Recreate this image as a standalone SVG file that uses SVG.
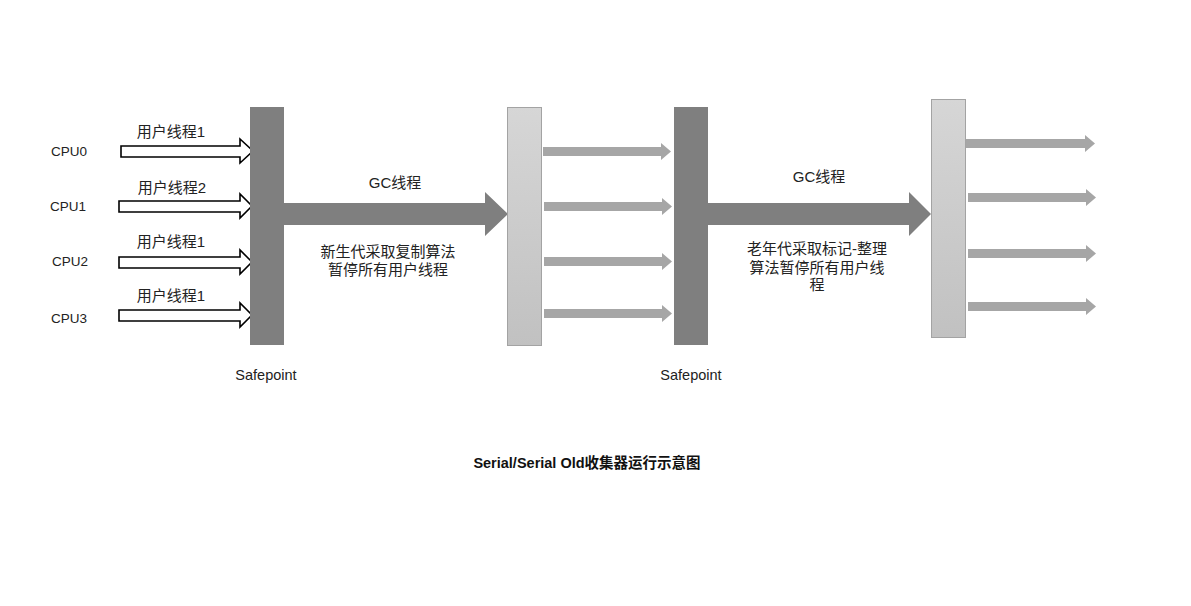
<svg xmlns="http://www.w3.org/2000/svg" width="1191" height="606" viewBox="0 0 1191 606">
<style>
text{font-family:"Liberation Sans","Noto Sans CJK SC",sans-serif;font-size:15px;fill:#222}
.c{text-anchor:middle}
.cpu{font-size:13.5px}
.sp{font-size:14.5px}
.title{font-weight:bold;font-size:14.5px;fill:#111}
.dark{fill:#7f7f7f}
.light{fill:url(#lg);stroke:#a3a3a3;stroke-width:1}
.ua{fill:#fff;stroke:#000;stroke-width:1.6}
.gc{fill:#7f7f7f}
.ga{fill:#a6a6a6}
</style>
<defs>
<linearGradient id="lg" x1="0" y1="0" x2="0" y2="1">
<stop offset="0" stop-color="#d6d6d6"/>
<stop offset="1" stop-color="#c1c1c1"/>
</linearGradient>
</defs>
<rect width="1191" height="606" fill="#fff"/>

<g id="labels-cpu">
<text x="69" y="156" class="c cpu">CPU0</text>
<text x="68" y="211" class="c cpu">CPU1</text>
<text x="70" y="266" class="c cpu">CPU2</text>
<text x="69" y="323" class="c cpu">CPU3</text>
</g>

<g id="connectors">
<polygon class="ua" points="121,146 240,146 240,139 253,151 240,163 240,157 121,157"/>
<polygon class="ua" points="119,201 240,201 240,194 252,206 240,218 240,212 119,212"/>
<polygon class="ua" points="119,257 240,257 240,250 252,262 240,274 240,268 119,268"/>
<polygon class="ua" points="119,310 240,310 240,303 252,315 240,327 240,321 119,321"/>

<polygon class="gc" points="284,203 485,203 485,192 508,214 485,236 485,225 284,225"/>
<polygon class="gc" points="708,203 909,203 909,192 931,214 909,236 909,225 708,225"/>

<polygon class="ga" points="543,147 661,147 661,143 671,151.5 661,160 661,156 543,156"/>
<polygon class="ga" points="544,202 662,202 662,198 672,206.5 662,215 662,211 544,211"/>
<polygon class="ga" points="544,257 662,257 662,253 672,261.5 662,270 662,266 544,266"/>
<polygon class="ga" points="544,309 662,309 662,305 672,313.5 662,322 662,318 544,318"/>

<polygon class="ga" points="966,139 1085,139 1085,135 1095,143.5 1085,152 1085,148 966,148"/>
<polygon class="ga" points="968,193 1086,193 1086,189 1096,197.5 1086,206 1086,202 968,202"/>
<polygon class="ga" points="968,249 1086,249 1086,245 1096,253.5 1086,262 1086,258 968,258"/>
<polygon class="ga" points="968,302 1086,302 1086,298 1096,306.5 1086,315 1086,311 968,311"/>
</g>

<g id="thread-labels">
<text x="171" y="137" class="c">用户线程1</text>
<text x="172" y="193" class="c">用户线程2</text>
<text x="171" y="247" class="c">用户线程1</text>
<text x="171" y="301" class="c">用户线程1</text>
</g>

<g id="safepoint1">
<rect class="dark" x="250" y="107" width="34" height="238"/>
<text x="266" y="380" class="c sp">Safepoint</text>
</g>
<g id="gc1-bar">
<rect class="light" x="507.5" y="107.5" width="34" height="238"/>
</g>
<g id="safepoint2">
<rect class="dark" x="674" y="107" width="34" height="238"/>
<text x="691" y="380" class="c sp">Safepoint</text>
</g>
<g id="gc2-bar">
<rect class="light" x="931.5" y="99.5" width="34" height="238"/>
</g>

<g id="gc1-label">
<text x="395" y="188" class="c">GC线程</text>
<text x="388" y="257" class="c">新生代采取复制算法<tspan x="388" dy="18">暂停所有用户线程</tspan></text>
</g>
<g id="gc2-label">
<text x="819" y="182" class="c">GC线程</text>
<text x="817" y="254" class="c">老年代采取标记-整理<tspan x="817" dy="19">算法暂停所有用户线</tspan><tspan x="817" dy="17">程</tspan></text>
</g>

<g id="title">
<text x="587" y="468" class="c title">Serial/Serial Old收集器运行示意图</text>
</g>
</svg>
